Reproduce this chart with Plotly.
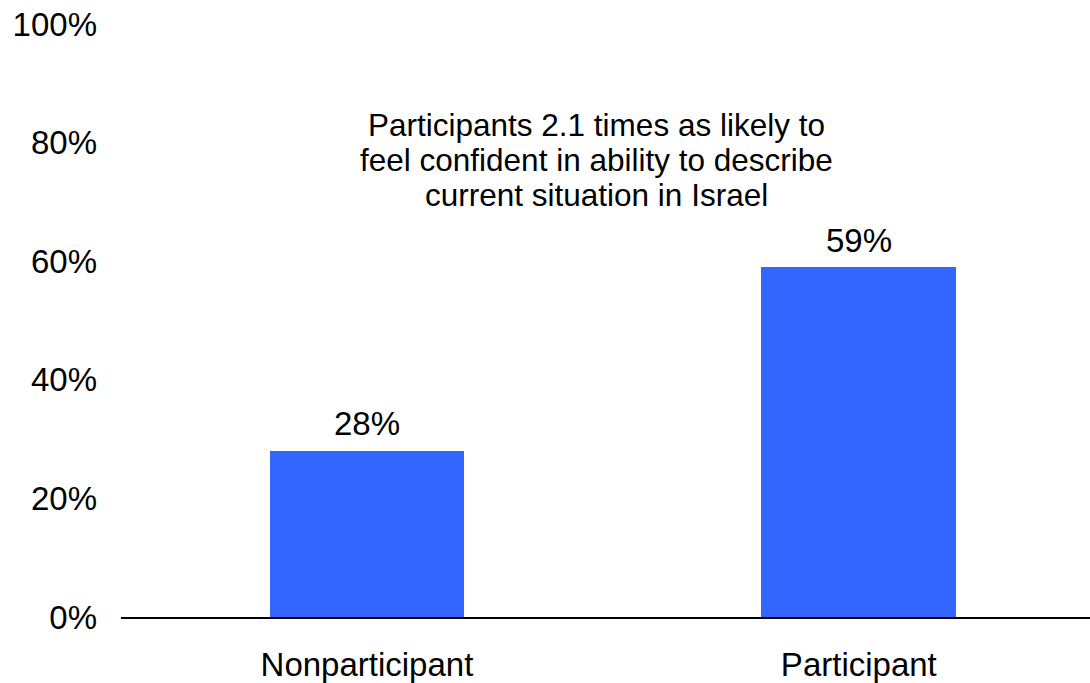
import plotly.graph_objects as go

categories = ["Nonparticipant", "Participant"]
values = [28, 59]
y_ticks = [0, 20, 40, 60, 80, 100]
y_tick_labels = ["0%", "20%", "40%", "60%", "80%", "100%"]
title_lines = [
    "Participants 2.1 times as likely to",
    "feel confident in ability to describe",
    "current situation in Israel",
]

FONT = "Liberation Sans, Arial, sans-serif"
SIZE = 33

fig = go.Figure()
fig.add_trace(go.Bar(
    x=[0, 1],
    y=values,
    width=0.396,
    marker=dict(color="#3366FF", line=dict(width=0)),
    hoverinfo="skip",
))

for xi, v in enumerate(values):
    fig.add_annotation(
        x=xi, y=v, xref="x", yref="y",
        text=f"{v}%", showarrow=False,
        font=dict(family=FONT, size=SIZE, color="black"),
        xanchor="center", yanchor="middle", yshift=27,
    )

for i, line in enumerate(title_lines):
    fig.add_annotation(
        x=0.491, y=(617 - 125 - 35 * i) / 593, xref="paper", yref="paper",
        text=line, showarrow=False,
        font=dict(family=FONT, size=31.5, color="black"),
        xanchor="center", yanchor="middle",
    )

fig.update_layout(
    width=1090, height=683,
    margin=dict(l=121, r=0, t=24, b=66, autoexpand=False),
    paper_bgcolor="white", plot_bgcolor="white",
    showlegend=False,
    bargap=0,
    font=dict(family=FONT, size=SIZE, color="black"),
    xaxis=dict(
        range=[-0.5, 1.47],
        tickmode="array", tickvals=[0, 1], ticktext=categories,
        showgrid=False, zeroline=False,
        showline=True, linecolor="black", linewidth=2,
        ticks="", tickfont=dict(family=FONT, size=SIZE, color="black"),
        automargin=False, ticklabelstandoff=17,
    ),
    yaxis=dict(
        range=[0, 100],
        tickmode="array", tickvals=y_ticks, ticktext=y_tick_labels,
        showgrid=False, zeroline=False, showline=False,
        ticks="", tickfont=dict(family=FONT, size=SIZE, color="black"),
        ticklabelstandoff=23, automargin=False,
    ),
)

fig.write_html(
    "out.html",
    config={"displayModeBar": False},
    post_script="document.body.style.margin='0';document.body.style.overflow='hidden';",
)
